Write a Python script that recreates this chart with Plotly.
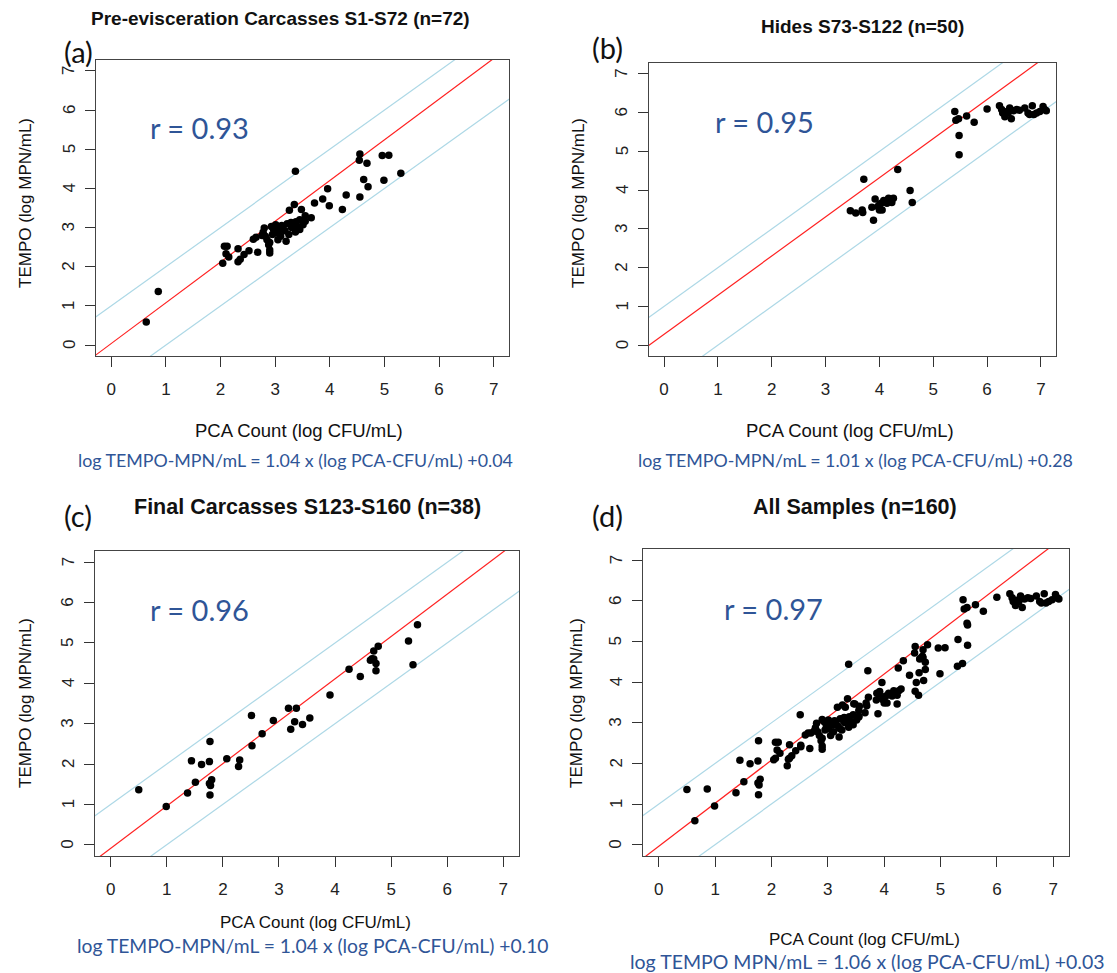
import plotly.graph_objects as go

# ---------------- data ----------------
pca_a = [0.64, 0.86, 2.04, 2.07, 2.12, 2.10, 2.15, 2.32, 2.32, 2.36, 2.43, 2.52, 2.68, 2.65,
         2.76, 2.80, 2.85, 2.88, 2.90, 2.90, 2.93, 2.97, 3.01, 3.02, 3.05, 3.09, 3.14, 3.20,
         3.25, 3.26, 3.29, 3.34, 3.35, 3.37, 3.37, 3.41, 3.48, 3.51, 3.55, 3.66, 3.72, 3.87,
         3.96, 3.99, 4.23, 4.30, 4.54, 4.55, 4.55, 4.62, 4.68, 4.70, 4.96, 5.08, 4.99, 5.30,
         2.82, 2.95, 3.00, 3.05, 3.12, 3.18, 3.22, 3.30, 3.38, 3.45, 2.90, 3.10, 2.78, 3.55,
         2.60, 3.45]
tempo_a = [0.59, 1.37, 2.09, 2.52, 2.52, 2.33, 2.25, 2.46, 2.13, 2.19, 2.31, 2.41, 2.37, 2.75,
           2.80, 2.99, 2.69, 2.56, 2.43, 2.35, 3.03, 2.95, 3.07, 2.86, 2.69, 2.95, 2.99, 2.65,
           2.82, 3.44, 3.13, 3.07, 3.59, 2.89, 4.44, 3.03, 3.46, 3.07, 3.16, 3.25, 3.63, 3.73,
           3.99, 3.56, 3.46, 3.83, 4.72, 4.88, 3.78, 4.23, 4.64, 4.04, 4.84, 4.85, 4.21, 4.39,
           2.78, 2.82, 2.92, 3.00, 3.05, 2.92, 3.10, 3.00, 3.15, 3.20, 2.62, 2.78, 2.88, 3.30,
           2.70, 2.95]

pca_b = [3.46, 3.56, 3.68, 3.69, 3.71, 3.86, 3.89, 3.92, 3.97, 4.00, 4.03, 4.05, 4.08, 4.14,
         4.17, 4.23, 4.26, 4.34, 4.57, 4.61, 5.40, 5.42, 5.47, 5.48, 5.48, 5.62, 5.76, 6.00,
         6.23, 6.27, 6.29, 6.33, 6.39, 6.42, 6.45, 6.49, 6.55, 6.60, 6.70, 6.76, 6.79, 6.84,
         6.87, 6.92, 6.98, 7.04, 7.07, 7.10, 4.00, 6.35]
tempo_b = [3.47, 3.41, 3.49, 3.42, 4.28, 3.56, 3.22, 3.77, 3.58, 3.49, 3.66, 3.49, 3.73, 3.66,
           3.79, 3.68, 3.79, 4.53, 3.99, 3.68, 6.03, 5.80, 5.84, 5.41, 4.91, 5.91, 5.75, 6.09,
           6.18, 6.08, 5.99, 5.89, 5.99, 6.12, 5.84, 6.05, 6.08, 6.06, 6.12, 5.99, 5.95, 6.18,
           5.95, 5.99, 6.03, 6.16, 6.08, 6.05, 3.62, 6.02]

pca_c = [0.50, 0.99, 1.37, 1.44, 1.51, 1.62, 1.76, 1.77, 1.76, 1.78, 1.80, 1.77, 2.07, 2.28,
         2.30, 2.51, 2.52, 2.70, 2.90, 3.17, 3.21, 3.28, 3.31, 3.42, 3.55, 3.91, 4.25, 4.45,
         4.63, 4.69, 4.69, 4.73, 4.73, 4.77, 5.31, 5.39, 5.47, 4.66]
tempo_c = [1.36, 0.95, 1.28, 2.08, 1.55, 1.99, 2.06, 2.56, 1.52, 1.47, 1.61, 1.23, 2.13, 1.94,
           2.10, 3.20, 2.45, 2.75, 3.08, 3.38, 2.86, 3.05, 3.38, 2.98, 3.14, 3.71, 4.35, 4.17,
           4.57, 4.80, 4.60, 4.49, 4.31, 4.92, 5.05, 4.46, 5.45, 4.61]

# panel d = all samples
pca_d = pca_a + pca_b + pca_c
tempo_d = tempo_a + tempo_b + tempo_c

titles = ["Pre-evisceration Carcasses S1-S72 (n=72)", "Hides S73-S122 (n=50)",
          "Final Carcasses S123-S160 (n=38)", "All Samples (n=160)"]
labels = ["(a)", "(b)", "(c)", "(d)"]
r_texts = ["r = 0.93", "r = 0.95", "r = 0.96", "r = 0.97"]
equations = ["log TEMPO-MPN/mL = 1.04 x (log PCA-CFU/mL) +0.04",
             "log TEMPO-MPN/mL = 1.01 x (log PCA-CFU/mL) +0.28",
             "log TEMPO-MPN/mL = 1.04 x (log PCA-CFU/mL) +0.10",
             "log TEMPO MPN/mL = 1.06 x (log PCA-CFU/mL) +0.03"]
# fitted lines as drawn in the picture
fit_slope = [1.04, 1.01, 1.05, 1.06]
fit_intercept = [0.04, 0.28, -0.09, -0.04]
band_offset = 1.0
tick_vals = [0, 1, 2, 3, 4, 5, 6, 7]
tick_text = ["0", "1", "2", "3", "4", "5", "6", "7"]
x_title = "PCA Count (log CFU/mL)"
y_title = "TEMPO (log MPN/mL)"

# ---------------- layout geometry (pixels) ----------------
W, H = 1117, 973
boxes = [(96, 509, 60, 356), (649, 1056, 63, 356), (95, 519, 551, 856), (643, 1069, 549, 856)]
title_pos = [(280, 18), (863, 27), (307, 507), (855, 507)]
title_size = [19, 19, 21.5, 21.5]
label_pos = [(78, 51), (608, 47), (78, 515), (608, 515)]
r_pos = [(148, 128), (713, 122), (148, 609), (722, 608)]
xt_pos = [(299, 430), (850, 430), (315, 922), (864, 939)]
xt_size = [18.5, 18.5, 17, 17]
yt_pos = [(25, 203), (578, 203), (25, 703), (576, 703)]
ytick_x = [69, 622, 68, 616]
eq_pos = [(295, 460), (855, 460), (313, 945), (867, 961)]
eq_size = [17.8, 17.8, 19.3, 19.5]

def px(x):
    return x / W

def py(y):
    return 1 - y / H

BLUE = "#2F5597"
AXIS_FONT = "Liberation Sans, Arial, sans-serif"
CAL_FONT = "Lato, Carlito, sans-serif"

fig = go.Figure()
xs = [pca_a, pca_b, pca_c, pca_d]
ys = [tempo_a, tempo_b, tempo_c, tempo_d]
line_x = [-1, 8]

annotations = []
for i in range(4):
    sfx = "" if i == 0 else str(i + 1)
    xa, ya = "x" + sfx, "y" + sfx
    for off in (band_offset, -band_offset):
        fig.add_trace(go.Scatter(x=line_x, y=[v + off for v in line_x], mode="lines",
                                 line=dict(color="#ADD8E6", width=1.2), xaxis=xa, yaxis=ya,
                                 showlegend=False, hoverinfo="skip"))
    fig.add_trace(go.Scatter(x=line_x, y=[fit_slope[i] * v + fit_intercept[i] for v in line_x],
                             mode="lines", line=dict(color="#FF2020", width=1.2),
                             xaxis=xa, yaxis=ya, showlegend=False, hoverinfo="skip"))
    fig.add_trace(go.Scatter(x=xs[i], y=ys[i], mode="markers",
                             marker=dict(color="black", size=7.5), xaxis=xa, yaxis=ya,
                             showlegend=False))
    l, r, t, b = boxes[i]
    axis_common = dict(range=[-0.28, 7.28], tickvals=tick_vals, ticktext=tick_text,
                       ticks="outside", ticklen=10,
                       tickcolor="#333", showline=True, linecolor="#444", linewidth=1,
                       mirror=True, showgrid=False, zeroline=False,
                       tickfont=dict(family=AXIS_FONT, size=17, color="#222"))
    fig.update_layout(**{
        "xaxis" + sfx: dict(domain=[px(l), px(r)], anchor=ya, ticklabelstandoff=8,
                            **axis_common),
        "yaxis" + sfx: dict(domain=[py(b), py(t)], anchor=xa, showticklabels=False,
                            **axis_common),
    })
    # rotated y tick labels (R style), placed on the y axis scale
    for v, s in zip(tick_vals, tick_text):
        annotations.append(dict(text=s, x=px(ytick_x[i]), xref="paper", y=v, yref=ya,
                                textangle=-90,
                                font=dict(family=AXIS_FONT, size=17, color="#222")))
    annotations += [
        dict(text="<b>" + titles[i] + "</b>", x=px(title_pos[i][0]), y=py(title_pos[i][1]),
             font=dict(family=AXIS_FONT, size=title_size[i], color="#111")),
        dict(text=labels[i], x=px(label_pos[i][0]), y=py(label_pos[i][1]),
             font=dict(family=CAL_FONT, size=29, color="#111")),
        dict(text=r_texts[i], x=px(r_pos[i][0]), y=py(r_pos[i][1]), xanchor="left",
             font=dict(family=CAL_FONT, size=29, color=BLUE)),
        dict(text=x_title, x=px(xt_pos[i][0]), y=py(xt_pos[i][1]),
             font=dict(family=AXIS_FONT, size=xt_size[i], color="#111")),
        dict(text=y_title, x=px(yt_pos[i][0]), y=py(yt_pos[i][1]), textangle=-90,
             font=dict(family=AXIS_FONT, size=17, color="#111")),
        dict(text=equations[i], x=px(eq_pos[i][0]), y=py(eq_pos[i][1]),
             font=dict(family=CAL_FONT, size=eq_size[i], color=BLUE)),
    ]

for a in annotations:
    a.setdefault("xref", "paper")
    a.setdefault("yref", "paper")
    a.update(showarrow=False, xanchor=a.get("xanchor", "center"), yanchor="middle")

fig.update_layout(width=W, height=H, margin=dict(l=0, r=0, t=0, b=0),
                  paper_bgcolor="white", plot_bgcolor="white", annotations=annotations)

fig.write_html("out.html", config={"displayModeBar": False},
               post_script="document.body.style.margin='0px';document.body.style.overflow='hidden';")
